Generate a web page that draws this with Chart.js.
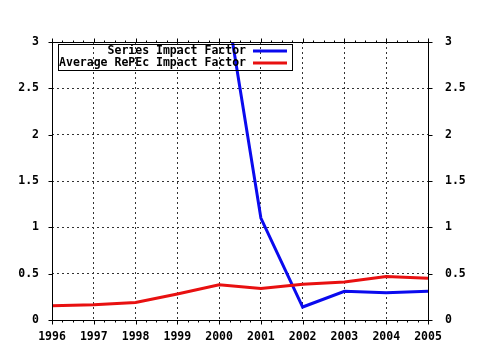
<!DOCTYPE html>
<html>
<head>
<meta charset="utf-8">
<script src="https://cdn.jsdelivr.net/npm/chart.js@4/dist/chart.umd.min.js"></script>
<style>
html,body{margin:0;padding:0;background:#fff}
#wrap{width:480px;height:350px}
</style>
</head>
<body>
<div id="wrap"><canvas id="ch" width="480" height="350"></canvas></div>
<script>
const years=[1996,1997,1998,1999,2000,2001,2002,2003,2004,2005];
const seriesIF=[null,null,null,null,3.9,1.1,0.14,0.31,0.295,0.31];
const avgIF=[0.155,0.165,0.19,0.28,0.38,0.34,0.385,0.41,0.47,0.45];
const legendNames=["Series Impact Factor","Average RePEc Impact Factor"];
const BLUE="#0a0aee",RED="#e81010",INK="#000";
const FONT={family:"'DejaVu Sans Mono', monospace",size:11.5,weight:"bold"};

// gnuplot style frame: solid border, outward ticks on all sides, key box
const frame={
  id:"frame",
  afterDraw(c){
    const ctx=c.ctx,a=c.chartArea,sx=c.scales.x,sy=c.scales.y;
    const L=Math.round(a.left)+.5,R=Math.round(a.right)+.5,T=Math.round(a.top)+.5,B=Math.round(a.bottom)+.5;
    ctx.save();
    ctx.strokeStyle=INK;ctx.lineWidth=1;ctx.setLineDash([]);
    ctx.strokeRect(L,T,R-L,B-T);
    ctx.beginPath();
    for(let v=years[0];v<=years[years.length-1]+1e-6;v+=0.25){
      const p=Math.round(sx.getPixelForValue(v))+.5;
      const len=Math.abs(v-Math.round(v))<1e-6?4:2;
      ctx.moveTo(p,B);ctx.lineTo(p,B+len);
      ctx.moveTo(p,T);ctx.lineTo(p,T-len);
    }
    for(let v=0;v<=3+1e-6;v+=0.5){
      const p=Math.round(sy.getPixelForValue(v))+.5;
      ctx.moveTo(L,p);ctx.lineTo(L-4,p);
      ctx.moveTo(R,p);ctx.lineTo(R+4,p);
    }
    ctx.stroke();

    // key
    ctx.strokeRect(58.5,44.5,234,26);
    ctx.font="bold 11.5px 'DejaVu Sans Mono', monospace";
    ctx.fillStyle=INK;ctx.textAlign="right";ctx.textBaseline="middle";
    const cols=[BLUE,RED],rows=[51,63];
    legendNames.forEach((n,i)=>{
      ctx.fillText(n,246,rows[i]);
      ctx.strokeStyle=cols[i];ctx.lineWidth=3;
      ctx.beginPath();ctx.moveTo(253,rows[i]);ctx.lineTo(287,rows[i]);ctx.stroke();
    });
    ctx.restore();
  }
};

const gridOpts={color:"#333",lineWidth:1,drawTicks:false};
new Chart(document.getElementById("ch"),{
  type:"line",
  data:{datasets:[
    {label:legendNames[0],data:years.map((y,i)=>({x:y,y:seriesIF[i]})),borderColor:BLUE,backgroundColor:BLUE,
     borderWidth:3,pointRadius:0,tension:0,order:1,clip:0},
    {label:legendNames[1],data:years.map((y,i)=>({x:y,y:avgIF[i]})),borderColor:RED,backgroundColor:RED,
     borderWidth:3,pointRadius:0,tension:0,order:0,clip:0}
  ]},
  options:{
    responsive:false,animation:false,
    layout:{padding:{top:42,left:0,right:0,bottom:0}},
    plugins:{legend:{display:false},tooltip:{enabled:false}},
    scales:{
      x:{type:"linear",position:"bottom",min:1996,max:2005,
        ticks:{stepSize:1,color:INK,font:FONT,padding:10,maxRotation:0,autoSkip:false,callback:v=>String(v)},
        grid:gridOpts,border:{display:false,dash:[2,3]},
        afterFit:s=>{s.height=30;}},
      y:{position:"left",min:0,max:3,
        ticks:{stepSize:0.5,color:INK,font:FONT,padding:13,callback:v=>String(v)},
        grid:gridOpts,border:{display:false,dash:[2,3]},
        afterFit:s=>{s.width=52;}},
      y1:{position:"right",min:0,max:3,
        ticks:{stepSize:0.5,color:INK,font:FONT,padding:17,callback:v=>String(v)},
        grid:{display:false,drawTicks:false},border:{display:false},
        afterFit:s=>{s.width=52;}}
    }
  },
  plugins:[frame]
});
</script>
</body>
</html>
